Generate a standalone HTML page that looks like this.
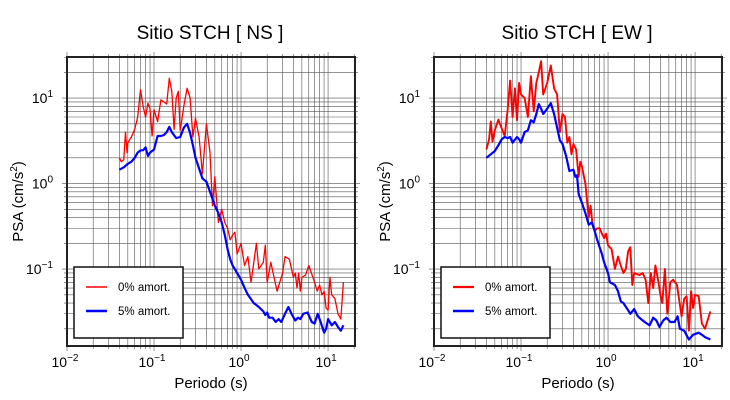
<!DOCTYPE html>
<html><head><meta charset="utf-8"><style>
html,body{margin:0;padding:0;background:#fff;}
svg{display:block;font-family:"Liberation Sans",sans-serif;}
</style></head><body>
<svg id="c" width="730" height="400" xmlns="http://www.w3.org/2000/svg"></svg>
<script>
const nsT0=[0.04,0.042,0.045,0.047,0.049,0.05,0.055,0.06,0.065,0.07,0.075,0.08,0.085,0.09,0.095,0.1,0.11,0.12,0.13,0.14,0.15,0.16,0.17,0.18,0.19,0.2,0.22,0.24,0.26,0.28,0.3,0.33,0.36,0.4,0.44,0.47,0.5,0.55,0.6,0.65,0.7,0.75,0.8,0.85,0.9,1.0,1.1,1.2,1.3,1.4,1.5,1.6,1.8,1.9,2.0,2.2,2.5,2.6,3.0,3.2,3.6,4.0,4.2,4.4,4.6,4.8,5,5.5,6,7,7.5,8,8.5,9,9.5,10,10.5,11,12,13,14,15];
const nsV0=[2.0,1.8,1.9,4.0,2.3,3.0,3.5,4.3,6,12.5,8,6,8.7,7.5,3.6,7.3,5.3,9.5,9,8.5,17,12,4.3,10,12,4.2,8,13,10,3.5,5.8,3.5,1.3,5,2.3,0.55,1.2,0.35,0.5,0.35,0.3,0.22,0.25,0.27,0.15,0.2,0.11,0.14,0.07,0.12,0.2,0.1,0.12,0.19,0.07,0.12,0.065,0.055,0.09,0.14,0.13,0.08,0.09,0.06,0.09,0.055,0.08,0.085,0.11,0.07,0.055,0.065,0.05,0.055,0.035,0.033,0.08,0.05,0.045,0.03,0.026,0.07];
const nsT5=[0.04,0.045,0.05,0.055,0.06,0.065,0.07,0.075,0.08,0.085,0.09,0.1,0.11,0.12,0.13,0.14,0.15,0.16,0.18,0.2,0.22,0.24,0.26,0.28,0.3,0.33,0.36,0.4,0.45,0.5,0.55,0.6,0.65,0.7,0.75,0.8,0.9,1.0,1.1,1.2,1.4,1.6,1.8,1.9,2.0,2.1,2.3,2.5,2.7,2.9,3.2,3.5,3.8,4.2,4.5,4.8,5.2,5.8,6.5,7,7.6,8.2,9,9.5,10,11,12,13,14,15];
const nsV5=[1.45,1.55,1.7,1.8,2.0,2.3,2.45,2.45,2.65,2.1,2.3,2.5,3.6,3.6,3.7,4.0,4.6,4.0,3.4,3.5,4.5,5.0,3.9,2.8,2.0,1.5,1.15,1.05,0.75,0.55,0.45,0.35,0.25,0.17,0.13,0.11,0.09,0.075,0.06,0.05,0.04,0.036,0.032,0.029,0.031,0.027,0.027,0.024,0.026,0.024,0.03,0.036,0.03,0.025,0.027,0.026,0.03,0.031,0.024,0.023,0.03,0.024,0.018,0.02,0.026,0.022,0.024,0.021,0.019,0.022];
const ewT0=[0.04,0.043,0.045,0.047,0.05,0.055,0.06,0.065,0.07,0.075,0.08,0.085,0.09,0.095,0.1,0.11,0.12,0.13,0.14,0.15,0.16,0.17,0.18,0.2,0.22,0.24,0.26,0.28,0.3,0.32,0.34,0.36,0.38,0.4,0.43,0.46,0.48,0.5,0.55,0.58,0.6,0.63,0.66,0.7,0.75,0.8,0.85,0.9,0.95,1.0,1.1,1.2,1.3,1.4,1.5,1.6,1.7,1.8,1.9,2.0,2.3,2.5,2.7,2.9,3.1,3.3,3.5,3.8,4.0,4.2,4.5,4.8,5.2,5.6,6.2,7,7.5,8,8.5,9,9.5,10,11,12,13,15];
const ewV0=[2.5,3.3,5.3,3.1,4.2,5.6,4.4,3.6,7,16,6,13,5.5,15,11,10,6,18,7,15,20,27,11,15,24,13,11,4,6.5,6,3,3.5,2.2,2.9,2.5,1.2,1.8,1.6,1.0,0.55,0.4,0.55,0.35,0.28,0.3,0.3,0.26,0.23,0.26,0.19,0.17,0.1,0.14,0.11,0.09,0.1,0.16,0.18,0.065,0.09,0.085,0.09,0.075,0.04,0.09,0.06,0.11,0.07,0.05,0.04,0.1,0.03,0.07,0.075,0.065,0.028,0.045,0.048,0.019,0.055,0.035,0.05,0.048,0.023,0.02,0.032];
const ewT5=[0.04,0.045,0.05,0.055,0.06,0.065,0.07,0.075,0.08,0.09,0.095,0.1,0.11,0.12,0.13,0.14,0.15,0.16,0.17,0.18,0.2,0.22,0.24,0.26,0.28,0.3,0.33,0.36,0.4,0.42,0.44,0.46,0.5,0.55,0.6,0.65,0.7,0.75,0.8,0.85,0.9,1.0,1.05,1.2,1.3,1.4,1.5,1.7,1.8,2.0,2.2,2.5,2.8,3.0,3.3,3.6,3.9,4.3,4.7,5.2,5.8,6.3,6.7,7.5,8.5,9.5,11,12,13,15];
const ewV5=[2.0,2.2,2.4,2.8,3.3,3.5,3.4,3.5,3.0,3.5,3.3,3.0,4.0,4.2,5.5,5.2,6.5,8.5,7.5,6.5,7.5,8.7,6.5,4.5,3.2,2.9,2.1,1.4,1.45,1.2,1.25,0.75,0.6,0.45,0.33,0.35,0.28,0.22,0.18,0.15,0.12,0.09,0.07,0.065,0.055,0.042,0.04,0.033,0.03,0.034,0.028,0.025,0.023,0.022,0.027,0.025,0.021,0.025,0.027,0.024,0.024,0.028,0.02,0.019,0.015,0.017,0.018,0.017,0.016,0.015];
const xTickExp=[-2,-1,0,1];
const yTickExp=[-1,0,1];
const titles=["Sitio STCH [ NS ]","Sitio STCH [ EW ]"];
const legendLabels=["0% amort.","5% amort."];

const NS="http://www.w3.org/2000/svg";
const svg=document.getElementById('c');
function mk(tag,attrs,parent){const e=document.createElementNS(NS,tag);for(const k in attrs)e.setAttribute(k,attrs[k]);(parent||svg).appendChild(e);return e;}
const LX0=-2,LX1=Math.log10(20.4),LY0=-1.9,LY1=1.48;
function panel(px,title,t0,v0,t5,v5,redW,key){
  const x0=px,x1=px+288,y0=57,y1=346;
  const g=mk('g',{});
  
  
  const X=t=>x0+(Math.log10(t)-LX0)/(LX1-LX0)*(x1-x0);
  const Y=v=>y1-(Math.log10(v)-LY0)/(LY1-LY0)*(y1-y0);
  const grid=mk('g',{stroke:'#555','stroke-width':0.6},g);
  
  
  for(let e=-2;e<=1;e++)for(let m=1;m<=9;m++){const t=m*Math.pow(10,e);if(t>20.4)continue;const x=X(t);
    mk('line',{x1:x,x2:x,y1:y0-(m==1?5:3),y2:y1+(m==1?5:3)},grid);}
  for(let e=-2;e<=1;e++)for(let m=1;m<=9;m++){const v=m*Math.pow(10,e);if(Math.log10(v)<LY0||Math.log10(v)>LY1)continue;const y=Y(v);
    mk('line',{x1:x0-(m==1?5:3),x2:x1+(m==1?5:3),y1:y,y2:y},grid);}
  const fr=mk('rect',{x:x0,y:y0,width:x1-x0,height:y1-y0,fill:'none',stroke:'#222','stroke-width':2},g);
  
  
  xTickExp.forEach(e=>{const t=mk('text',{x:X(Math.pow(10,e))-2,y:y1+21,'text-anchor':'middle','font-size':14},g);
    
    t.textContent='10';const s=mk('tspan',{dy:-6,'font-size':10},t);s.textContent=e<0?'\u2212'+(-e):e;});
  yTickExp.forEach(e=>{const t=mk('text',{x:x0-14,y:Y(Math.pow(10,e))+5,'text-anchor':'end','font-size':14},g);
    
    t.textContent='10';const s=mk('tspan',{dy:-6,'font-size':10},t);s.textContent=e<0?'\u2212'+(-e):e;});
  const xl=mk('text',{x:(x0+x1)/2,y:388,'text-anchor':'middle','font-size':15},g);xl.textContent='Periodo (s)';
  
  const yl=mk('text',{transform:`translate(${x0-44},${(y0+y1)/2}) rotate(-90)`,'text-anchor':'middle','font-size':15},g);
  
  yl.textContent='PSA (cm/s';const sp=mk('tspan',{dy:-6,'font-size':10},yl);sp.textContent='2';const sp2=mk('tspan',{dy:6},yl);sp2.textContent=')';
  const tt=mk('text',{x:(x0+x1)/2-1,y:39,'text-anchor':'middle','font-size':19},g);tt.textContent=title;
  
  const r=mk('polyline',{points:t0.map((t,i)=>X(t).toFixed(1)+','+Y(v0[i]).toFixed(1)).join(' '),fill:'none',stroke:'#ff0000','stroke-width':redW,'stroke-linejoin':'round'},g);
  
  const b=mk('polyline',{points:t5.map((t,i)=>X(t).toFixed(1)+','+Y(v5[i]).toFixed(1)).join(' '),fill:'none',stroke:'#0000ff','stroke-width':2.2,'stroke-linejoin':'round'},g);
  
  const lg=mk('g',{},g);
  const lx=x0+7;
  mk('rect',{x:lx,y:267,width:109,height:71,fill:'#fff',stroke:'#111','stroke-width':1.5},lg);
  [['#ff0000',redW,287],['#0000ff',2.2,311]].forEach((c,i)=>{
    mk('line',{x1:lx+12,x2:lx+33,y1:c[2],y2:c[2],stroke:c[0],'stroke-width':c[1]+0.3},lg);
    const t=mk('text',{x:lx+44,y:c[2]+4,'font-size':11.5},lg);t.textContent=legendLabels[i];
    
  });
}
panel(67,titles[0],nsT0,nsV0,nsT5,nsV5,1.3,'ns');
panel(434,titles[1],ewT0,ewV0,ewT5,ewV5,1.9,'ew');
</script>
</body></html>
